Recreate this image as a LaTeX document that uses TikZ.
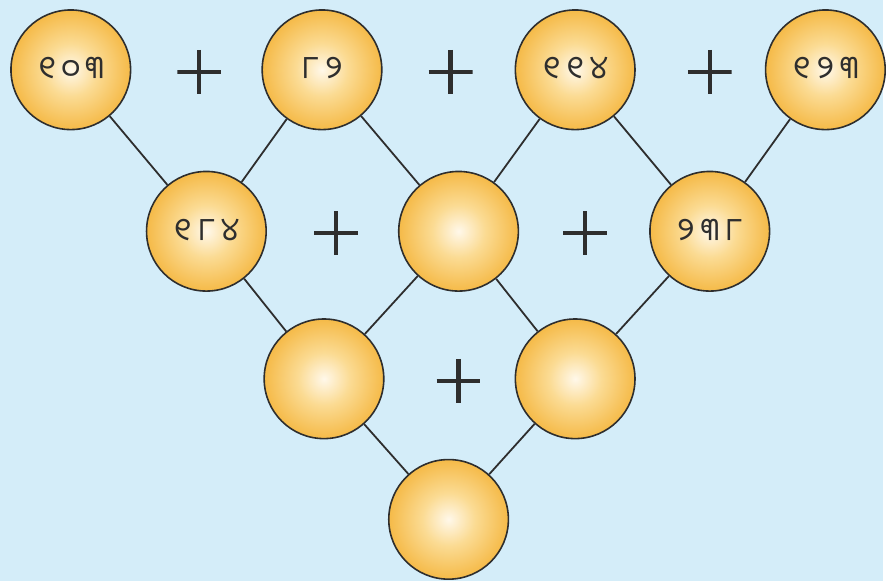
\documentclass[tikz,border=0pt]{standalone}
\usepackage{fontspec}
\newfontfamily\odiafont[Script=Oriya, LetterSpace=18]{Noto Sans Oriya UI}
\usetikzlibrary{positioning}
\definecolor{bgblue}{HTML}{D4EDF9}
\definecolor{ballrim}{HTML}{F5BA48}
\definecolor{ballring}{HTML}{FBDB93}
\definecolor{ballmid}{HTML}{FFF8EA}
\definecolor{inkgray}{HTML}{2E2E2E}
\pgfdeclareradialshading{ballshade}{\pgfpoint{0bp}{0bp}}{%
  color(0bp)=(ballmid); color(11bp)=(ballring);
  color(25bp)=(ballrim); color(50bp)=(ballrim)}

\begin{document}
\begin{tikzpicture}[
    x=1pt, y=-1pt,
    ball/.style={circle, draw=inkgray, line width=1.6pt, minimum size=120pt, inner sep=0pt,
                 shading=ballshade,
                 font=\odiafont\fontsize{32}{34}\selectfont, text=inkgray},
    plussign/.style={minimum size=44pt, inner sep=0pt,
                 path picture={\draw[inkgray, line width=4.2pt]
                   (path picture bounding box.west) -- (path picture bounding box.east)
                   (path picture bounding box.north) -- (path picture bounding box.south);}},
    link/.style={inkgray, line width=1.8pt}
]

% Background
\fill[bgblue] (0,0) rectangle (886,583);

% Top Row
\node (t1) [ball] at (71,70) {୧୦୩};
\node (t2) [ball] at (323,70) {୮୨};
\node (t3) [ball] at (577,70) {୧୧୪};
\node (t4) [ball] at (828,70) {୧୨୩};
\node (p1) [plussign] at (200,72) {};
\node (p2) [plussign] at (452,72) {};
\node (p3) [plussign] at (712,72) {};

% Second Row
\node (m1) [ball] at (207,232) {୧୮୪};
\node (m2) [ball] at (460,232) {};
\node (m3) [ball] at (712,232) {୨୩୮};
\node (p4) [plussign] at (337,234) {};
\node (p5) [plussign] at (587,234) {};

% Third Row
\node (r1) [ball] at (325,380) {};
\node (r2) [ball] at (577,380) {};
\node (p6) [plussign] at (460,382) {};

% Bottom
\node (b1) [ball] at (450,521) {};

\draw [link] (t1) -- (m1);
\draw [link] (t2) -- (m1);
\draw [link] (t2) -- (m2);
\draw [link] (t3) -- (m2);
\draw [link] (t3) -- (m3);
\draw [link] (t4) -- (m3);
\draw [link] (m1) -- (r1);
\draw [link] (m2) -- (r1);
\draw [link] (m2) -- (r2);
\draw [link] (m3) -- (r2);
\draw [link] (r1) -- (b1);
\draw [link] (r2) -- (b1);

\useasboundingbox (0,0) rectangle (886,583);
\end{tikzpicture}
\end{document}
